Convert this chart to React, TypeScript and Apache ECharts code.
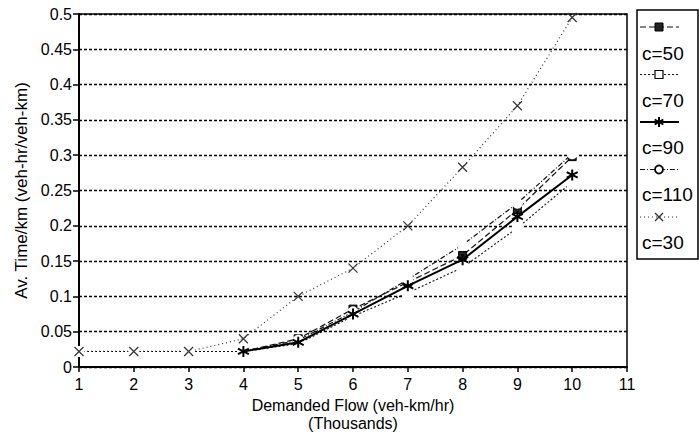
import React, { useEffect, useRef } from "react";
import * as echarts from "echarts";

const xValues = [1, 2, 3, 4, 5, 6, 7, 8, 9, 10];
const c50 = [null, null, null, 0.022, 0.04, 0.082, 0.12, 0.158, 0.223, 0.298];
const c70 = [0.022, 0.022, 0.022, 0.022, 0.033, 0.072, 0.105, 0.141, 0.197, 0.262];
const c90 = [null, null, null, 0.022, 0.035, 0.075, 0.115, 0.152, 0.213, 0.272];
const c110 = [null, null, null, 0.022, 0.038, 0.078, 0.124, 0.173, 0.232, 0.302];
const c30 = [0.022, 0.022, 0.022, 0.04, 0.1, 0.14, 0.2, 0.283, 0.37, 0.495];

const seriesNames = ["c=50", "c=70", "c=90", "c=110", "c=30"];
const seriesValues = [c50, c70, c90, c110, c30];

const FONT = "'Liberation Sans', Arial, Helvetica, sans-serif";

const ASTERISK = "path://M5,0L5,10M0.7,2.5L9.3,7.5M0.7,7.5L9.3,2.5";
const CROSS = "path://M0,0L10,10M0,10L10,0";

type Style = {
  lineType: any;
  lineWidth: number;
  color: string;
  symbol: string;
  symbolSize: number;
  fill: string;
  border: string;
  borderWidth: number;
  marker: string;
};

const styles: Style[] = [
  { lineType: [6, 3], lineWidth: 1.2, color: "#111", symbol: "rect", symbolSize: 8, fill: "#222", border: "#000", borderWidth: 1, marker: "rect" },
  { lineType: [2, 2], lineWidth: 1.1, color: "#111", symbol: "emptyRect", symbolSize: 9, fill: "#fff", border: "#000", borderWidth: 1.2, marker: "emptyRect" },
  { lineType: "solid", lineWidth: 2, color: "#000", symbol: ASTERISK, symbolSize: 11, fill: "#000", border: "#000", borderWidth: 2, marker: "asterisk" },
  { lineType: [5, 2, 1, 2], lineWidth: 1.2, color: "#111", symbol: "emptyCircle", symbolSize: 9, fill: "#fff", border: "#000", borderWidth: 1.8, marker: "emptyCircle" },
  { lineType: [1, 3], lineWidth: 1.2, color: "#333", symbol: CROSS, symbolSize: 9, fill: "#333", border: "#333", borderWidth: 1.2, marker: "cross" },
];

function markerEls(kind: string, cx: number, cy: number): any[] {
  switch (kind) {
    case "rect":
      return [{ type: "rect", shape: { x: cx - 4, y: cy - 4, width: 8, height: 8 }, style: { fill: "#222", stroke: "#000", lineWidth: 1 } }];
    case "emptyRect":
      return [{ type: "rect", shape: { x: cx - 4, y: cy - 4, width: 8, height: 8 }, style: { fill: "#fff", stroke: "#000", lineWidth: 1.2 } }];
    case "asterisk":
      return [
        { type: "line", shape: { x1: cx, y1: cy - 5, x2: cx, y2: cy + 5 }, style: { stroke: "#000", lineWidth: 2 } },
        { type: "line", shape: { x1: cx - 4.3, y1: cy - 2.5, x2: cx + 4.3, y2: cy + 2.5 }, style: { stroke: "#000", lineWidth: 2 } },
        { type: "line", shape: { x1: cx - 4.3, y1: cy + 2.5, x2: cx + 4.3, y2: cy - 2.5 }, style: { stroke: "#000", lineWidth: 2 } },
      ];
    case "emptyCircle":
      return [{ type: "circle", shape: { cx, cy, r: 4 }, style: { fill: "#fff", stroke: "#000", lineWidth: 1.8 } }];
    default:
      return [
        { type: "line", shape: { x1: cx - 4, y1: cy - 4, x2: cx + 4, y2: cy + 4 }, style: { stroke: "#333", lineWidth: 1.2 } },
        { type: "line", shape: { x1: cx - 4, y1: cy + 4, x2: cx + 4, y2: cy - 4 }, style: { stroke: "#333", lineWidth: 1.2 } },
      ];
  }
}

export default function App() {
  const ref = useRef<HTMLDivElement>(null);

  useEffect(() => {
    if (!ref.current) return;
    const chart = echarts.init(ref.current, undefined, { renderer: "svg" });

    const series = seriesNames.map((name, i) => {
      const s = styles[i];
      return {
        name,
        type: "line",
        data: xValues.map((x, j) => [x, seriesValues[i][j]]),
        symbol: s.symbol,
        symbolSize: s.symbolSize,
        showAllSymbol: true,
        connectNulls: false,
        lineStyle: { color: s.color, width: s.lineWidth, type: s.lineType },
        itemStyle: { color: s.fill, borderColor: s.border, borderWidth: s.borderWidth },
        z: i === 2 ? 5 : 3,
      };
    });

    const legendEls: any[] = [
      { type: "rect", shape: { x: 637, y: 10, width: 61, height: 249 }, style: { fill: "#fff", stroke: "#000", lineWidth: 1.5 } },
    ];
    seriesNames.forEach((name, i) => {
      const s = styles[i];
      const sy = 27 + 47.5 * i;
      const ty = 53 + 47.3 * i;
      legendEls.push({
        type: "line",
        shape: { x1: 640, y1: sy, x2: 679, y2: sy },
        style: { stroke: s.color, lineWidth: s.lineWidth, lineDash: s.lineType === "solid" ? null : s.lineType },
      });
      markerEls(s.marker, 659, sy).forEach((e) => legendEls.push(e));
      legendEls.push({
        type: "text",
        x: 642,
        y: ty,
        style: { text: name, fill: "#000", font: `19px ${FONT}`, textVerticalAlign: "middle", textAlign: "left" },
      });
    });

    chart.setOption({
      animation: false,
      backgroundColor: "#fff",
      textStyle: { fontFamily: FONT },
      grid: { left: 79, right: 72, top: 14, bottom: 76, show: true, borderColor: "#000", borderWidth: 1.5, backgroundColor: "transparent" },
      xAxis: {
        type: "value",
        min: 1,
        max: 11,
        interval: 1,
        name: "Demanded Flow (veh-km/hr)\n(Thousands)",
        nameLocation: "middle",
        nameGap: 27,
        nameTextStyle: { fontSize: 16, color: "#000", lineHeight: 18, fontFamily: FONT },
        axisLine: { show: true, lineStyle: { color: "#000", width: 2 } },
        axisTick: { show: true, inside: false, length: 5, lineStyle: { color: "#000", width: 1.5 } },
        axisLabel: { fontSize: 16, color: "#000", margin: 9, fontFamily: FONT },
        splitLine: { show: false },
      },
      yAxis: {
        type: "value",
        min: 0,
        max: 0.5,
        interval: 0.05,
        name: "Av. Time/km (veh-hr/veh-km)",
        nameLocation: "middle",
        nameRotate: 90,
        nameGap: 43,
        nameTextStyle: { fontSize: 17, color: "#000", fontFamily: FONT },
        axisLine: { show: true, onZero: false, lineStyle: { color: "#000", width: 2 } },
        axisTick: { show: true, inside: false, length: 6, lineStyle: { color: "#000", width: 1.5 } },
        axisLabel: { fontSize: 16, color: "#000", margin: 7, fontFamily: FONT },
        splitLine: { show: true, lineStyle: { color: "#000", width: 1.3, type: [3, 2] } },
      },
      series,
      graphic: legendEls,
    });

    return () => chart.dispose();
  }, []);

  return (
    <div
      ref={ref}
      style={{ position: "absolute", left: 0, top: 0, width: 699, height: 443, background: "#fff" }}
    />
  );
}
